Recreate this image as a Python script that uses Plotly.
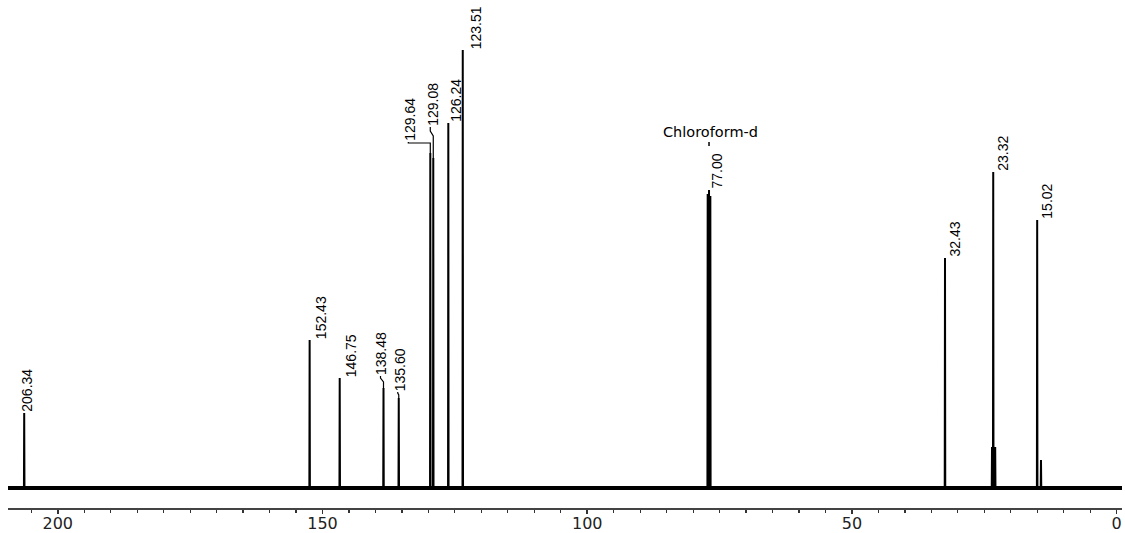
import plotly.graph_objects as go

# ---- data ----
peak_ppm = [206.34, 152.43, 146.75, 138.48, 135.60, 129.64, 129.08, 126.24, 123.51,
            77.25, 77.00, 76.75, 32.43, 23.55, 23.32, 22.95, 15.02, 14.30]
peak_height = [75, 148, 110, 100, 90, 335, 330, 365, 438,
               294, 298, 292, 230, 41, 316, 41, 268, 28]

label_ppm = [206.34, 152.43, 146.75, 138.48, 135.60, 129.64, 129.08, 126.24, 123.51,
             77.00, 32.43, 23.32, 15.02]
label_text = ["206.34", "152.43", "146.75", "138.48", "135.60", "129.64", "129.08",
              "126.24", "123.51", "77.00", "32.43", "23.32", "15.02"]
solvent_label = "Chloroform-d"
solvent_ppm = 77.00

tick_vals = [200, 150, 100, 50, 0]
tick_text = ["200", "150", "100", "50", "0"]

# ---- styling / layout ----
W, H = 1125, 533
ML, MR, MT, MB = 8, 3, 8, 25
X_RANGE = [209.4, -1.0]
Y_RANGE = [-20, 480]
px_per_ppm = (W - ML - MR) / (X_RANGE[0] - X_RANGE[1])

# label horizontal offset (px) and lift of label bottom above peak top (px)
label_dx = [2, 11, 11, -3, 1, -21, -1, 7, 13, 7, 9, 9, 9]
label_gap = [0, 0, 0, 12, 6, 11, 31, 0, 0, 0, 0, 0, 0]
# bent leader lines (px offsets from peak top), keyed by label index
leaders = {
    3: [(0, 0), (0, 6), (-3, 10), (-3, 12)],
    4: [(0, 0), (0, 3), (-1, 5), (-1, 6)],
    5: [(0, 0), (0, 10), (-22, 10), (-22, 11)],
    6: [(0, 0), (0, 22), (-3, 27), (-3, 31)],
}

height_of = dict(zip(peak_ppm, peak_height))

# spectrum trace: narrow triangles on baseline
order = sorted(range(len(peak_ppm)), key=lambda i: -peak_ppm[i])
xs, ys = [X_RANGE[0]], [0]
hw = 0.05
for i in order:
    p, h = peak_ppm[i], peak_height[i]
    xs += [p + hw, p, p - hw]
    ys += [0, h, 0]
xs.append(X_RANGE[1])
ys.append(0)

fig = go.Figure()
fig.add_trace(go.Scatter(x=[X_RANGE[0], X_RANGE[1]], y=[0, 0], mode="lines",
                         line=dict(color="black", width=4), hoverinfo="skip"))
fig.add_trace(go.Scatter(x=xs, y=ys, mode="lines",
                         line=dict(color="black", width=2), hoverinfo="skip"))

label_font = dict(family="Liberation Sans, Arial, sans-serif", size=14, color="black")

for k, (p, t) in enumerate(zip(label_ppm, label_text)):
    h = height_of[p]
    fig.add_annotation(x=p, y=h + label_gap[k], xref="x", yref="y", text=t,
                       textangle=-90, showarrow=False, xanchor="center",
                       yanchor="bottom", xshift=label_dx[k], font=label_font,
                       borderpad=0)
    if k in leaders:
        pts = leaders[k]
        lx = [p - dx / px_per_ppm for dx, dy in pts]
        ly = [h + dy for dx, dy in pts]
        fig.add_trace(go.Scatter(x=lx, y=ly, mode="lines",
                                 line=dict(color="black", width=1.2), hoverinfo="skip"))

# solvent label
hs = height_of[solvent_ppm]
fig.add_annotation(x=solvent_ppm, y=hs + 58, xref="x", yref="y", text=solvent_label,
                   showarrow=False, xanchor="center", yanchor="middle", xshift=1,
                   font=dict(family="DejaVu Sans", size=14.5, color="black"))
fig.add_trace(go.Scatter(x=[solvent_ppm, solvent_ppm], y=[hs + 44, hs + 48], mode="lines",
                         line=dict(color="black", width=1.5), hoverinfo="skip"))

fig.update_layout(
    width=W, height=H, margin=dict(l=ML, r=MR, t=MT, b=MB, autoexpand=False),
    paper_bgcolor="white", plot_bgcolor="white", showlegend=False,
    xaxis=dict(range=X_RANGE, showgrid=False, zeroline=False, showline=True,
               linecolor="#444", linewidth=2, ticks="outside", ticklen=4,
               tickwidth=1.5, tickcolor="#333",
               tickvals=tick_vals, ticktext=tick_text, ticklabelstandoff=-4,
               tickfont=dict(family="DejaVu Sans", size=16, color="#222"),
               minor=dict(dtick=5, ticks="outside", ticklen=3, tickwidth=1.2,
                          tickcolor="#333", showgrid=False),
               fixedrange=True),
    yaxis=dict(range=Y_RANGE, visible=False, fixedrange=True),
)

fig.write_html("out.html", config={"displayModeBar": False, "staticPlot": True},
               post_script="document.body.style.margin='0';"
                           "document.body.style.overflow='hidden';")
